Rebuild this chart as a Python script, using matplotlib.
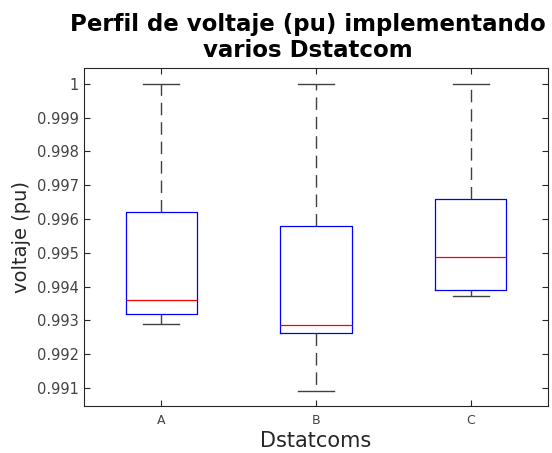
import matplotlib.pyplot as plt
import numpy as np

labels = ['A', 'B', 'C']
whislo = [0.99290, 0.99092, 0.99373]
q1 = [0.99320, 0.99263, 0.99391]
med = [0.99361, 0.99287, 0.99488]
q3 = [0.99621, 0.99580, 0.99660]
whishi = [1.0, 1.0, 1.0]

stats = []
for i in range(3):
    stats.append({'label': labels[i], 'whislo': whislo[i], 'q1': q1[i],
                  'med': med[i], 'q3': q3[i], 'whishi': whishi[i], 'fliers': []})

fig = plt.figure(figsize=(5.52, 4.53), dpi=100)
ax = fig.add_axes([0.152, 0.104, 0.841, 0.746])

gray = '#262626'
ax.bxp(stats, positions=[1, 2, 3], widths=0.46, showfliers=False,
       boxprops=dict(color='#0000ff', linewidth=0.9),
       medianprops=dict(color='#ff0000', linewidth=0.9),
       whiskerprops=dict(color='#404040', linestyle=(0, (9, 5)), linewidth=1.0),
       capprops=dict(color='#404040', linewidth=1.0),
       capwidths=0.23)

ax.set_xlim(0.5, 3.5)
ax.set_ylim(0.99047, 1.00047)
ax.set_yticks(np.arange(0.991, 1.0005, 0.001))
ax.set_yticklabels(['0.991', '0.992', '0.993', '0.994', '0.995', '0.996',
                    '0.997', '0.998', '0.999', '1'])
ax.tick_params(direction='in', top=True, right=True,
               colors=gray, labelcolor='#444444', length=4)
ax.tick_params(axis='y', labelsize=10.5)
ax.tick_params(axis='x', labelsize=9, pad=6)
for s in ax.spines.values():
    s.set_color(gray)
    s.set_linewidth(0.8)

ax.set_xlabel('Dstatcoms', fontsize=15, color=gray, labelpad=3)
ax.set_ylabel('voltaje (pu)', fontsize=14, color=gray)
ax.set_title('Perfil de voltaje (pu) implementando\nvarios Dstatcom',
             fontsize=16.5, fontweight='bold', linespacing=1.15, pad=8, x=0.483)

fig.savefig('out.png', dpi=100)
